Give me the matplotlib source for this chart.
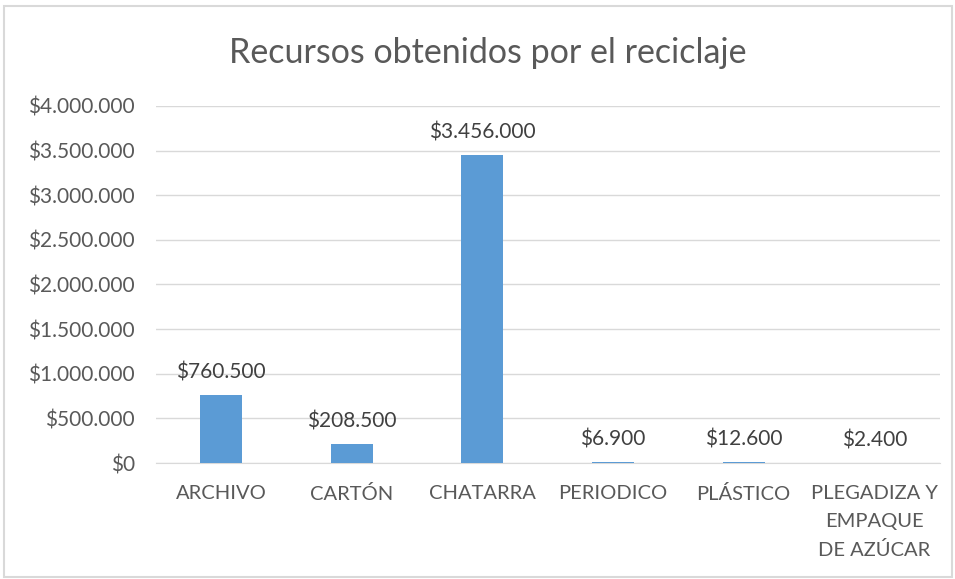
import matplotlib.pyplot as plt
from matplotlib.ticker import FuncFormatter
from matplotlib.patches import Rectangle

plt.rcParams['font.family'] = ['Lato', 'DejaVu Sans']

categorias = ['ARCHIVO', 'CARTÓN', 'CHATARRA', 'PERIODICO', 'PLÁSTICO',
              'PLEGADIZA Y\nEMPAQUE\nDE AZÚCAR']
valores = [760500, 208500, 3456000, 6900, 12600, 2400]

gris = '#595959'

def pesos(v, pos=None):
    return '$' + '{:,.0f}'.format(v).replace(',', '.')

fig = plt.figure(figsize=(9.55, 5.79), dpi=100)
ax = fig.add_axes([0.163, 0.2003, 0.821, 0.6167])

x = range(len(categorias))
ax.bar(x, valores, width=0.32, color='#5B9BD5', zorder=3)

# etiquetas de datos
for i, v in zip(x, valores):
    ax.annotate(pesos(v), (i, v), xytext=(0, 9), textcoords='offset points',
                ha='center', va='bottom', fontsize=15, color='#404040')

ax.set_ylim(0, 4000000)
ax.set_xlim(-0.5, len(categorias) - 0.5)
ax.set_yticks(range(0, 4000001, 500000))
ax.yaxis.set_major_formatter(FuncFormatter(pesos))
ax.set_xticks(list(x))
ax.set_xticklabels(categorias, linespacing=1.75)
ax.tick_params(axis='both', length=0, labelsize=14.5, colors=gris)
ax.tick_params(axis='x', pad=16)
ax.tick_params(axis='y', pad=15)
ax.tick_params(axis='y', labelsize=15)
ax.grid(axis='y', color='#D9D9D9', linewidth=1, zorder=0)
for s in ['top', 'right', 'left']:
    ax.spines[s].set_visible(False)
ax.spines['bottom'].set_color('#D9D9D9')

fig.text(0.511, 0.908, 'Recursos obtenidos por el reciclaje', ha='center',
         va='center', fontsize=24.5, color=gris)

fig.patches.append(Rectangle((0.004, 0.003), 0.993, 0.987, transform=fig.transFigure,
                             fill=False, edgecolor='#D9D9D9', linewidth=1.5))

fig.savefig('out.png', dpi=100)
